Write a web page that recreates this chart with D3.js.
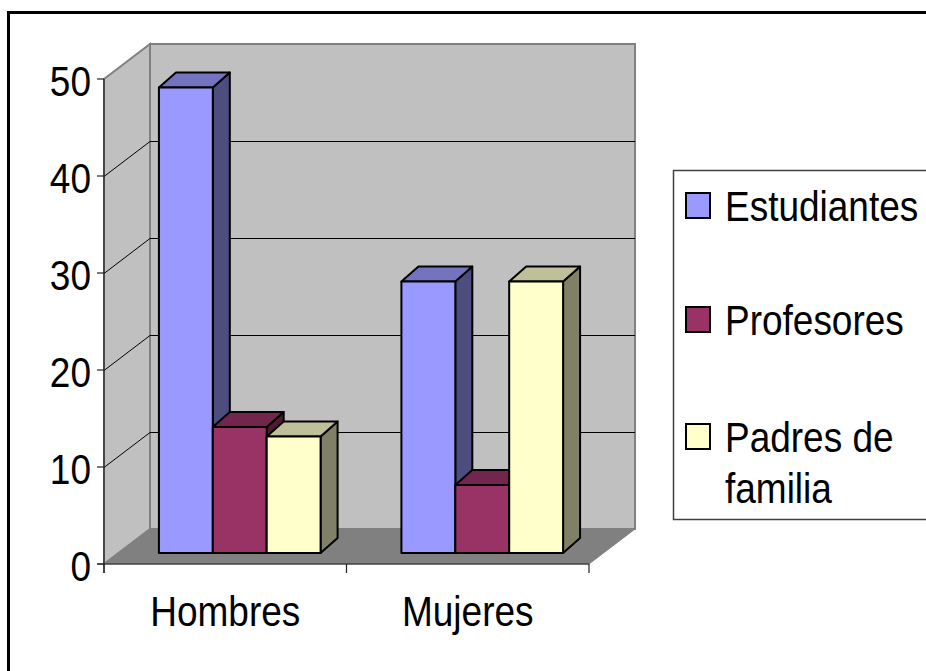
<!DOCTYPE html>
<html>
<head>
<meta charset="utf-8">
<script src="https://cdn.jsdelivr.net/npm/d3@7"></script>
<style>
  body { margin: 0; background: #fff; }
  text { font-family: "Liberation Sans", Arial, sans-serif; fill: #000; }
</style>
</head>
<body>
<div id="chart"></div>
<script>
const categories = ["Hombres", "Mujeres"];
const seriesNames = ["Estudiantes", "Profesores", "Padres de familia"];
const estudiantes = [48, 28];
const profesores = [13, 7];
const padres = [12, 28];
const tickValues = [0, 10, 20, 30, 40, 50];

const values = [estudiantes, profesores, padres];
const faceColors = ["#9999ff", "#993366", "#ffffcc"];
const topColors = ["#7373bf", "#73264d", "#bfbf99"];
const sideColors = ["#4d4d80", "#4d1a33", "#808066"];

const W = 926, H = 671;
const FRONT_LEFT = 104, FRONT_RIGHT = 589;
const FRONT_BOTTOM = 564, FRONT_TOP = 79;
const DEPTH_X = 46, DEPTH_Y = -35;
const BAR_FRONT = [14.5, -11];
const BAR_BACK = [31.5, -26];
const FONT_SIZE = 37;
const STRETCH = 1.16;

const svg = d3.select("#chart").append("svg")
  .attr("width", W)
  .attr("height", H);

const y = d3.scaleLinear().domain([0, 50]).range([FRONT_BOTTOM, FRONT_TOP]);
const x0 = d3.scaleBand().domain(categories).range([FRONT_LEFT, FRONT_RIGHT]);
const barW = x0.bandwidth() / 4.5;
const x1 = d3.scaleBand().domain(seriesNames)
  .range([x0.bandwidth() * 0.75 / 4.5, x0.bandwidth() * 0.75 / 4.5 + barW * 3]);

const pts = a => a.map(p => p.join(",")).join(" ");

// stretched text helper (reference fonts look taller than wide)
function label(g, txt, x, yb, anchor) {
  return g.append("text")
    .attr("transform", `translate(${x},${yb}) scale(1,${STRETCH})`)
    .attr("text-anchor", anchor)
    .attr("font-size", FONT_SIZE)
    .text(txt);
}

// outer frame
svg.append("rect")
  .attr("x", 8.5).attr("y", 12.5)
  .attr("width", 940).attr("height", 680)
  .attr("fill", "none").attr("stroke", "#000").attr("stroke-width", 3);

const walls = svg.append("g");
const bx0 = FRONT_LEFT + DEPTH_X, bx1 = FRONT_RIGHT + DEPTH_X;
const by0 = FRONT_BOTTOM + DEPTH_Y, by1 = FRONT_TOP + DEPTH_Y;

// back wall
walls.append("polygon")
  .attr("points", pts([[bx0, by1], [bx1, by1], [bx1, by0], [bx0, by0]]))
  .attr("fill", "#c0c0c0").attr("stroke", "#808080").attr("stroke-width", 2);
// side wall
walls.append("polygon")
  .attr("points", pts([[FRONT_LEFT, FRONT_TOP], [bx0, by1], [bx0, by0], [FRONT_LEFT, FRONT_BOTTOM]]))
  .attr("fill", "#c0c0c0").attr("stroke", "#808080").attr("stroke-width", 2);
// floor
walls.append("polygon")
  .attr("points", pts([[FRONT_LEFT, FRONT_BOTTOM], [bx0, by0], [bx1, by0], [FRONT_RIGHT, FRONT_BOTTOM]]))
  .attr("fill", "#808080").attr("stroke", "#808080").attr("stroke-width", 1);

// gridlines
const grid = svg.append("g").attr("stroke", "#000").attr("stroke-width", 1).attr("fill", "none");
tickValues.filter(v => v > 0 && v < 50).forEach(v => {
  const yf = Math.round(y(v)) + 0.5, yb = Math.round(y(v) + DEPTH_Y) + 0.5;
  grid.append("polyline")
    .attr("points", pts([[FRONT_LEFT, yf], [bx0, yb], [bx1, yb]]));
});

// bars
const bars = svg.append("g").attr("stroke", "#000").attr("stroke-width", 2).attr("stroke-linejoin", "round");
categories.forEach((c, ci) => {
  seriesNames.forEach((s, si) => {
    const v = values[si][ci];
    const xl = x0(c) + x1(s) + BAR_FRONT[0];
    const xr = xl + barW;
    const yb = y(0) + BAR_FRONT[1];
    const yt = y(v) + BAR_FRONT[1];
    const dx = BAR_BACK[0] - BAR_FRONT[0], dy = BAR_BACK[1] - BAR_FRONT[1];
    bars.append("polygon")
      .attr("points", pts([[xr, yb], [xr + dx, yb + dy], [xr + dx, yt + dy], [xr, yt]]))
      .attr("fill", sideColors[si]);
    bars.append("polygon")
      .attr("points", pts([[xl, yt], [xl + dx, yt + dy], [xr + dx, yt + dy], [xr, yt]]))
      .attr("fill", topColors[si]);
    bars.append("rect")
      .attr("x", xl).attr("y", yt)
      .attr("width", barW).attr("height", yb - yt)
      .attr("fill", faceColors[si]);
  });
});

// axes
const axes = svg.append("g").attr("stroke", "#222").attr("stroke-width", 1.2);
axes.append("line")
  .attr("x1", FRONT_LEFT).attr("x2", FRONT_LEFT)
  .attr("y1", FRONT_TOP).attr("y2", FRONT_BOTTOM + 9);
axes.append("line")
  .attr("x1", FRONT_LEFT - 7).attr("x2", FRONT_RIGHT)
  .attr("y1", FRONT_BOTTOM).attr("y2", FRONT_BOTTOM);
tickValues.forEach(v => {
  axes.append("line")
    .attr("x1", FRONT_LEFT - 7).attr("x2", FRONT_LEFT)
    .attr("y1", y(v)).attr("y2", y(v));
});
x0.domain().concat([null]).forEach(c => {
  const xx = c === null ? FRONT_RIGHT : x0(c);
  axes.append("line")
    .attr("x1", xx).attr("x2", xx)
    .attr("y1", FRONT_BOTTOM).attr("y2", FRONT_BOTTOM + 9);
});

const labels = svg.append("g");
tickValues.forEach(v => label(labels, v, 91, y(v) + 17, "end"));
categories.forEach(c => label(labels, c, x0(c) + x0.bandwidth() / 2, 626, "middle"));

// legend
const legend = svg.append("g");
legend.append("rect")
  .attr("x", 673.5).attr("y", 170.5)
  .attr("width", 300).attr("height", 349)
  .attr("fill", "#fff").attr("stroke", "#404040").attr("stroke-width", 1.5);
const legendRows = [
  { lines: ["Estudiantes"], base: 221 },
  { lines: ["Profesores"], base: 335 },
  { lines: ["Padres de", "familia"], base: 452 }
];
legendRows.forEach((r, i) => {
  legend.append("rect")
    .attr("x", 686).attr("y", r.base - 28)
    .attr("width", 24).attr("height", 25)
    .attr("fill", faceColors[i]).attr("stroke", "#000").attr("stroke-width", 2);
  r.lines.forEach((t, li) => label(legend, t, 725, r.base + li * 51, "start"));
});
</script>
</body>
</html>
